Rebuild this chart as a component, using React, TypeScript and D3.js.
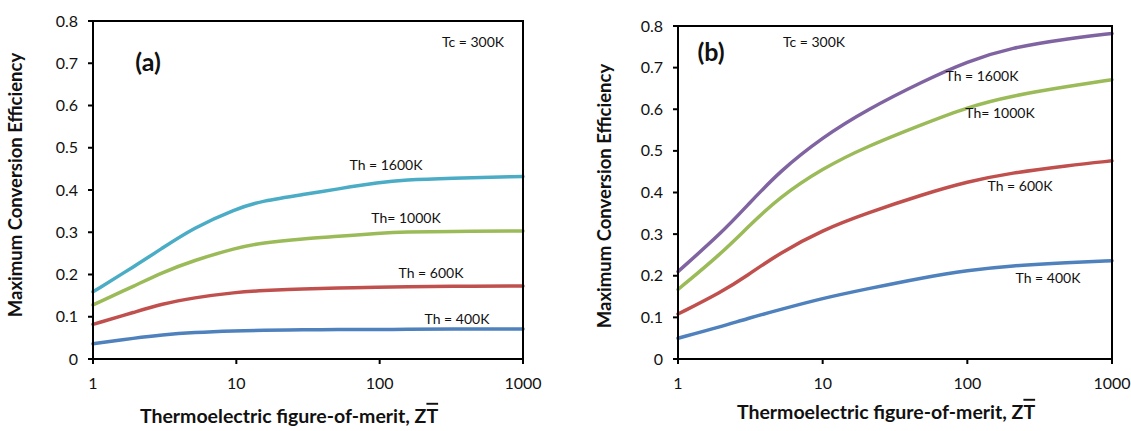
import React from "react";
import * as d3 from "d3";

// Panel (a)
const xA = [1, 2, 3, 5, 10, 15, 30, 50, 100, 150, 300, 1000];
const a1600 = [0.159, 0.222, 0.261, 0.31, 0.356, 0.374, 0.39, 0.402, 0.418, 0.424, 0.428, 0.432];
const a1000 = [0.128, 0.175, 0.204, 0.233, 0.263, 0.275, 0.285, 0.29, 0.298, 0.301, 0.302, 0.303];
const a600 = [0.082, 0.112, 0.13, 0.145, 0.158, 0.162, 0.166, 0.168, 0.17, 0.171, 0.172, 0.173];
const a400 = [0.036, 0.05, 0.057, 0.063, 0.067, 0.068, 0.069, 0.07, 0.07, 0.07, 0.071, 0.071];

// Panel (b)
const xB = [1, 2, 3, 5, 10, 20, 50, 100, 200, 500, 1000];
const b1600 = [0.21, 0.303, 0.368, 0.45, 0.533, 0.598, 0.668, 0.715, 0.748, 0.77, 0.782];
const b1000 = [0.167, 0.254, 0.315, 0.388, 0.458, 0.51, 0.565, 0.605, 0.632, 0.655, 0.671];
const b600 = [0.108, 0.161, 0.2, 0.254, 0.31, 0.35, 0.396, 0.426, 0.447, 0.465, 0.476];
const b400 = [0.05, 0.078, 0.097, 0.118, 0.146, 0.168, 0.196, 0.213, 0.224, 0.232, 0.236];

const xTicks = [1, 10, 100, 1000];
const yTicks = [0, 0.1, 0.2, 0.3, 0.4, 0.5, 0.6, 0.7, 0.8];

const FONT = "Lato, 'Open Sans', sans-serif";

type Series = { values: number[]; color: string; label: string; lx: number; ly: number };

function Panel(props: {
  xs: number[];
  left: number; right: number; top: number; bottom: number;
  series: Series[]; tag: string; tagX: number; tagY: number;
  tcX: number; tcY: number; yTitleX: number; yTitleY: number;
  xTitleX: number; xTitleY: number;
}) {
  const { left, right, top, bottom, xs } = props;
  const x = d3.scaleLog().domain([1, 1000]).range([left, right]);
  const y = d3.scaleLinear().domain([0, 0.8]).range([bottom, top]);
  const line = d3
    .line<number>()
    .x((_, i) => x(xs[i]))
    .y((d) => y(d))
    .curve(d3.curveBasis);
  return (
    <g>
      {props.series.map((s, i) => (
        <path key={i} d={line(s.values) || ""} fill="none" stroke={s.color} strokeWidth={3.5} strokeLinecap="round" />
      ))}
      <rect x={left} y={top} width={right - left} height={bottom - top} fill="none" stroke="#000" strokeWidth={2} />
      {yTicks.map((t) => (
        <g key={t}>
          <line x1={left - 5} x2={left} y1={y(t)} y2={y(t)} stroke="#000" strokeWidth={2} />
          <text x={left - 15} y={y(t)} dy="0.35em" textAnchor="end" fontSize={16} fontFamily={FONT} fill="#111">
            {t === 0 ? "0" : t.toFixed(1)}
          </text>
        </g>
      ))}
      {xTicks.map((t) => (
        <g key={t}>
          <line x1={x(t)} x2={x(t)} y1={bottom} y2={bottom + 5} stroke="#000" strokeWidth={2} />
          <text x={x(t)} y={bottom + 24} dy="0.35em" textAnchor="middle" fontSize={16} fontFamily={FONT} fill="#111">
            {t}
          </text>
        </g>
      ))}
      {props.series.map((s, i) => (
        <text key={i} x={s.lx} y={s.ly} dy="0.35em" textAnchor="middle" fontSize={14} fontFamily={FONT} fill="#111">
          {s.label}
        </text>
      ))}
      <text x={props.tagX} y={props.tagY} dy="0.35em" textAnchor="middle" fontSize={25} fontWeight="bold" fontFamily={FONT} fill="#111">
        {props.tag}
      </text>
      <text x={props.tcX} y={props.tcY} dy="0.35em" textAnchor="middle" fontSize={14} fontFamily={FONT} fill="#111">
        Tc = 300K
      </text>
      <text
        transform={`translate(${props.yTitleX},${props.yTitleY}) rotate(-90)`}
        dy="0.35em"
        textAnchor="middle"
        fontSize={18.5}
        fontWeight="bold"
        fontFamily={FONT}
        fill="#111"
      >
        Maximum Conversion Efficiency
      </text>
      <text x={props.xTitleX} y={props.xTitleY} dy="0.35em" textAnchor="middle" fontSize={19.5} fontWeight="bold" fontFamily={FONT} fill="#111">
        Thermoelectric figure-of-merit, Z
        <tspan style={{ textDecoration: "overline" }}>T</tspan>
      </text>
    </g>
  );
}

export default function App() {
  const seriesA: Series[] = [
    { values: a1600, color: "#4BACC6", label: "Th = 1600K", lx: 386, ly: 165 },
    { values: a1000, color: "#9BBB59", label: "Th= 1000K", lx: 406, ly: 218 },
    { values: a600, color: "#C0504D", label: "Th = 600K", lx: 431, ly: 273 },
    { values: a400, color: "#4F81BD", label: "Th = 400K", lx: 457, ly: 319 },
  ];
  const seriesB: Series[] = [
    { values: b1600, color: "#8064A2", label: "Th = 1600K", lx: 982, ly: 76 },
    { values: b1000, color: "#9BBB59", label: "Th= 1000K", lx: 1000, ly: 113 },
    { values: b600, color: "#C0504D", label: "Th = 600K", lx: 1020, ly: 186 },
    { values: b400, color: "#4F81BD", label: "Th = 400K", lx: 1048, ly: 278 },
  ];
  return (
    <svg width={1131} height={431} style={{ position: "absolute", left: 0, top: 0, background: "#fff" }}>
      <rect width={1131} height={431} fill="#fff" />
      <Panel
        xs={xA}
        left={93} right={523} top={21} bottom={359}
        series={seriesA} tag="(a)" tagX={148} tagY={62}
        tcX={473} tcY={42} yTitleX={16} yTitleY={185}
        xTitleX={289} xTitleY={416}
      />
      <Panel
        xs={xB}
        left={678} right={1112} top={26} bottom={359}
        series={seriesB} tag="(b)" tagX={711} tagY={52}
        tcX={814} tcY={42} yTitleX={605} yTitleY={196}
        xTitleX={886} xTitleY={412}
      />
    </svg>
  );
}
